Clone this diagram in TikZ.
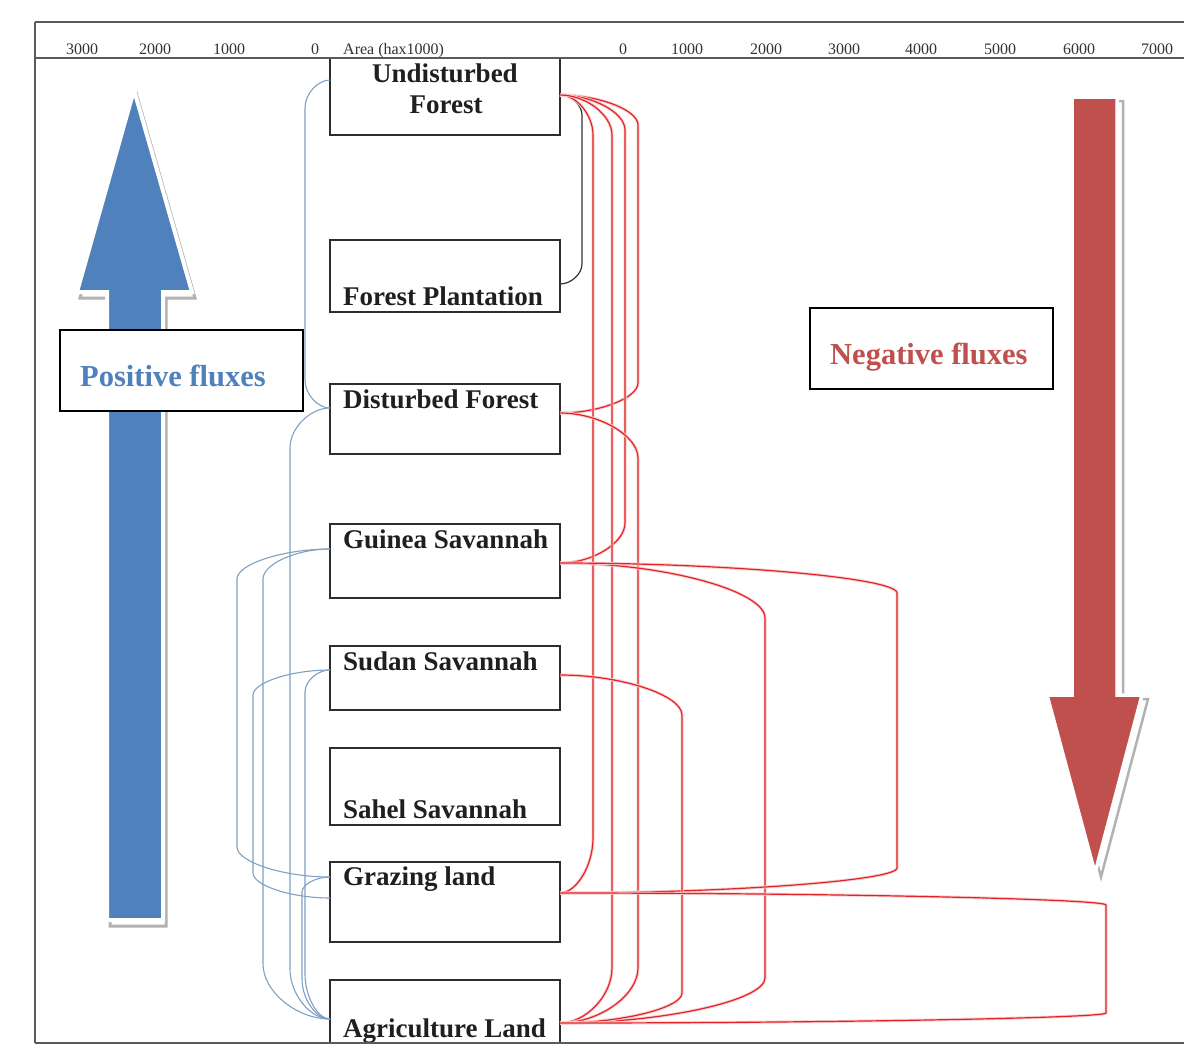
\documentclass[tikz,border=0pt]{standalone}
\usepackage{fontspec}
\setmainfont{Liberation Serif}
\usetikzlibrary{calc}
\definecolor{bluefill}{RGB}{79,129,189}
\definecolor{redfill}{RGB}{192,80,77}
\definecolor{bconn}{RGB}{128,160,198}
\definecolor{rconn}{RGB}{226,36,40}
\definecolor{boxline}{RGB}{45,45,45}
\definecolor{framecol}{RGB}{90,90,90}
\newcommand\conn[6]{% style, from, to, X, d1, d2
  \draw[#1] let \p1=(#2), \p2=(#3) in (#2) .. controls ({0.5*\x1+0.5*#4pt},\y1) and (#4pt,{\y1-0.5*#5pt}) .. (#4pt,{\y1-#5pt}) -- (#4pt,{\y2+#6pt}) .. controls (#4pt,{\y2+0.5*#6pt}) and ({0.5*\x2+0.5*#4pt},\y2) .. (#3);}
\tikzset{
  landbox/.style={draw=boxline, line width=1.4pt, fill=white, inner sep=0pt, minimum width=230pt},
  landtext/.style={font=\fontsize{27}{28}\selectfont\bfseries, text=black!88, inner sep=0pt, anchor=base west},
  fluxbox/.style={draw=black, line width=1.4pt, fill=white, inner sep=0pt, minimum width=243pt, minimum height=81pt},
  fluxtext/.style={font=\fontsize{30.5}{31}\selectfont\bfseries, inner sep=0pt, anchor=base west},
  axlab/.style={font=\fontsize{16}{16}\selectfont, text=black!80, inner sep=0pt, anchor=base},
  bc/.style={draw=bconn, line width=1.1pt},
  kc/.style={draw=black!80, line width=1.2pt},
  rc/.style={draw=rconn, line width=1.2pt, preaction={draw=rconn!22, line width=3pt}},
  frameline/.style={draw=framecol, line width=1.6pt}
}
\begin{document}
\begin{tikzpicture}[x=1pt, y=-1pt]
\useasboundingbox (0,0) rectangle (1184,1050);
\fill[white] (0,0) rectangle (1184,1050);

% frame and axis band
\draw[frameline] (35,22) -- (1184,22);
\draw[frameline] (35,58) -- (1184,58);
\draw[frameline] (35,1043) -- (1184,1043);
\draw[frameline] (35,22) -- (35,1043);

% axis labels
\node[axlab] (l3000) at (82,54) {3000};
\node[axlab] (l2000) at (155,54) {2000};
\node[axlab] (l1000) at (229,54) {1000};
\node[axlab] (l0a) at (315,54) {0};
\node[axlab, anchor=base west] (larea) at (343,54) {Area (hax1000)};
\node[axlab] (r0) at (623,54) {0};
\node[axlab] (r1000) at (687,54) {1000};
\node[axlab] (r2000) at (766,54) {2000};
\node[axlab] (r3000) at (844,54) {3000};
\node[axlab] (r4000) at (921,54) {4000};
\node[axlab] (r5000) at (1000,54) {5000};
\node[axlab] (r6000) at (1079,54) {6000};
\node[axlab] (r7000) at (1157,54) {7000};

% blue arrow (positive fluxes)
\draw[gray!60, line width=3pt, shift={(3,6)}] (107,920) -- (107,292) -- (77,292) -- (134,90) -- (192,292) -- (163,292) -- (163,920) -- cycle;
\draw[white, line width=4pt, fill=bluefill] (107,920) -- (107,292) -- (77,292) -- (134,90) -- (192,292) -- (163,292) -- (163,920) -- cycle;

% red arrow (negative fluxes)
\draw[gray!60, line width=2.5pt, shift={(6,4)}] (1072,97) -- (1117,97) -- (1117,695) -- (1142,695) -- (1095,873) -- (1047,695) -- (1072,695) -- cycle;
\draw[white, line width=3.5pt, fill=redfill] (1072,97) -- (1117,97) -- (1117,695) -- (1142,695) -- (1095,873) -- (1047,695) -- (1072,695) -- cycle;

% land cover boxes
\node[landbox, minimum height=77pt] (uf) at (445,96.5) {};
\node[landbox, minimum height=72pt] (fp) at (445,276) {};
\node[landbox, minimum height=70pt] (df) at (445,419) {};
\node[landbox, minimum height=74pt] (gs) at (445,561) {};
\node[landbox, minimum height=64pt] (ss) at (445,678) {};
\node[landbox, minimum height=77pt] (sh) at (445,786.5) {};
\node[landbox, minimum height=80pt] (gl) at (445,902) {};
\node[landbox, minimum height=63pt] (al) at (445,1011.5) {};

\node[landtext, anchor=base] (ufT1) at (445,82) {Undisturbed};
\node[landtext, anchor=base] (ufT2) at (446,113) {Forest};
\node[landtext] (fpT) at (343,305) {Forest Plantation};
\node[landtext] (dfT) at (343,408) {Disturbed Forest};
\node[landtext] (gsT) at (343,548) {Guinea Savannah};
\node[landtext] (ssT) at (343,670) {Sudan Savannah};
\node[landtext] (shT) at (343,818) {Sahel Savannah};
\node[landtext] (glT) at (343,885) {Grazing land};
\node[landtext] (alT) at (343,1037) {Agriculture Land};

% redraw frame lines over the boxes
\draw[frameline] (35,1043) -- (1184,1043);
\draw[frameline] (35,58) -- (1184,58);

% connection points
\coordinate (ufL) at (330,80);
\coordinate (ufR) at (560,95);
\coordinate (fpR) at (560,284);
\coordinate (dfL) at (330,408);
\coordinate (dfR) at (560,413);
\coordinate (gsL) at (330,549);
\coordinate (gsR) at (560,563);
\coordinate (ssL) at (330,670);
\coordinate (ssR) at (560,675);
\coordinate (glL1) at (330,877);
\coordinate (glL2) at (330,898);
\coordinate (glR) at (560,893);
\coordinate (alL) at (330,1019);
\coordinate (alR) at (560,1023);

% blue connectors (left)
\conn{bc}{ufL}{dfL}{305}{28}{28}
\conn{bc}{dfL}{alL}{290}{40}{50}
\conn{bc}{gsL}{glL1}{237}{30}{30}
\conn{bc}{gsL}{alL}{263}{30}{55}
\conn{bc}{ssL}{glL2}{253}{25}{25}
\conn{bc}{ssL}{alL}{305}{22}{45}
\conn{bc}{glL1}{alL}{302}{15}{40}

% black connector
\conn{kc}{ufR}{fpR}{582}{20}{20}

% red connectors (right)
\conn{rc}{ufR}{dfR}{638}{30}{30}
\conn{rc}{ufR}{gsR}{625}{35}{40}
\conn{rc}{ufR}{glR}{593}{40}{55}
\conn{rc}{ufR}{alR}{612}{40}{55}
\conn{rc}{dfR}{alR}{638}{45}{55}
\conn{rc}{gsR}{alR}{765}{55}{45}
\conn{rc}{gsR}{glR}{897}{30}{25}
\conn{rc}{ssR}{alR}{682}{40}{30}
\conn{rc}{glR}{alR}{1106}{12}{10}

% flux text boxes
\node[fluxbox] (pos) at (181.5,370.5) {};
\node[fluxtext, text=bluefill] (posT) at (80,386) {Positive fluxes};
\node[fluxbox] (neg) at (931.5,348.5) {};
\node[fluxtext, text=redfill] (negT) at (830,364) {Negative fluxes};
\end{tikzpicture}
\end{document}
